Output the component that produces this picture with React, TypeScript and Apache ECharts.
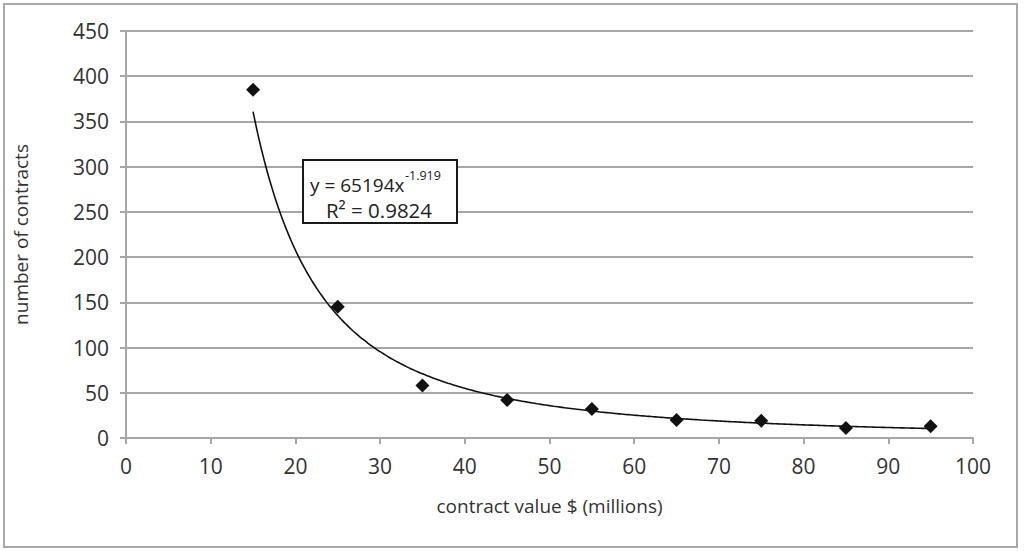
import React, { useEffect, useRef } from "react";
import * as echarts from "echarts";

const contractValues = [15, 25, 35, 45, 55, 65, 75, 85, 95];
const contractCounts = [385, 145, 58, 42, 32, 20, 19, 11, 13];
const xTicks = [0, 10, 20, 30, 40, 50, 60, 70, 80, 90, 100];
const yTicks = [0, 50, 100, 150, 200, 250, 300, 350, 400, 450];
const trendCoef = 65194;
const trendExp = -1.919;
const trendLabel1 = "y = 65194x";
const trendLabelSup = "-1.919";
const trendLabel2 = "R² = 0.9824";
const xName = "contract value $ (millions)";
const yName = "number of contracts";

const FONT = "Open Sans";
const TXT = "#333333";
const GRID = "#a6a6a6";

export default function App() {
  const ref = useRef<HTMLDivElement>(null);
  useEffect(() => {
    if (!ref.current) return;
    const chart = echarts.init(ref.current, undefined, { renderer: "svg" });
    const trend: number[][] = [];
    const xs0 = contractValues[0];
    const xs1 = contractValues[contractValues.length - 1];
    for (let x = xs0; x <= xs1 + 1e-9; x += 0.5) {
      trend.push([x, trendCoef * Math.pow(x, trendExp)]);
    }
    chart.setOption({
      animation: false,
      backgroundColor: "#ffffff",
      grid: { left: 126, top: 31, width: 847, height: 407, containLabel: false },
      xAxis: {
        type: "value",
        min: xTicks[0],
        max: xTicks[xTicks.length - 1],
        interval: 10,
        name: xName,
        nameLocation: "middle",
        nameGap: 58,
        nameTextStyle: { fontFamily: FONT, fontSize: 19, color: TXT },
        axisLine: { show: true, lineStyle: { color: GRID, width: 2 } },
        axisTick: { show: true, length: 6, lineStyle: { color: GRID, width: 2 } },
        axisLabel: { fontFamily: FONT, fontSize: 21, color: TXT, margin: 17 },
        splitLine: { show: false },
      },
      yAxis: {
        type: "value",
        min: yTicks[0],
        max: yTicks[yTicks.length - 1],
        interval: 50,
        name: yName,
        nameLocation: "middle",
        nameGap: 96,
        nameTextStyle: { fontFamily: FONT, fontSize: 19, color: TXT },
        axisLine: { show: true, lineStyle: { color: GRID, width: 2 } },
        axisTick: { show: true, length: 6, lineStyle: { color: GRID, width: 2 } },
        axisLabel: { fontFamily: FONT, fontSize: 21, color: TXT, margin: 17 },
        splitLine: { show: true, lineStyle: { color: GRID, width: 2 } },
      },
      series: [
        {
          type: "line",
          data: trend,
          showSymbol: false,
          symbol: "none",
          smooth: true,
          lineStyle: { color: "#111111", width: 1.6 },
          z: 2,
        },
        {
          type: "scatter",
          data: contractValues.map((x, i) => [x, contractCounts[i]]),
          symbol: "diamond",
          symbolSize: 14,
          itemStyle: { color: "#111111", opacity: 1 },
          z: 3,
        },
      ],
      graphic: [
        {
          type: "rect",
          shape: { x: 4, y: 4, width: 1013, height: 543 },
          style: { fill: "none", stroke: "#a8a8a8", lineWidth: 2 },
          silent: true,
        },
        {
          type: "rect",
          shape: { x: 303, y: 160, width: 154, height: 63 },
          style: { fill: "#ffffff", stroke: "#1a1a1a", lineWidth: 2 },
          z: 10,
        },
        {
          type: "text",
          x: 310,
          y: 185,
          style: { text: trendLabel1, fontFamily: FONT, fontSize: 19, lineHeight: 19, fill: "#222", verticalAlign: "middle", align: "left" },
          z: 11,
        },
        {
          type: "text",
          x: 405,
          y: 175,
          style: { text: trendLabelSup, fontFamily: FONT, fontSize: 12.5, lineHeight: 12, fill: "#222", verticalAlign: "middle", align: "left" },
          z: 11,
        },
        {
          type: "text",
          x: 379,
          y: 210,
          style: { text: trendLabel2, fontFamily: FONT, fontSize: 20.5, lineHeight: 20, fill: "#222", verticalAlign: "middle", align: "center" },
          z: 11,
        },
      ],
    });
    return () => chart.dispose();
  }, []);
  return (
    <div
      ref={ref}
      style={{ position: "fixed", left: 0, top: 0, width: 1024, height: 551, background: "#fff" }}
    />
  );
}
